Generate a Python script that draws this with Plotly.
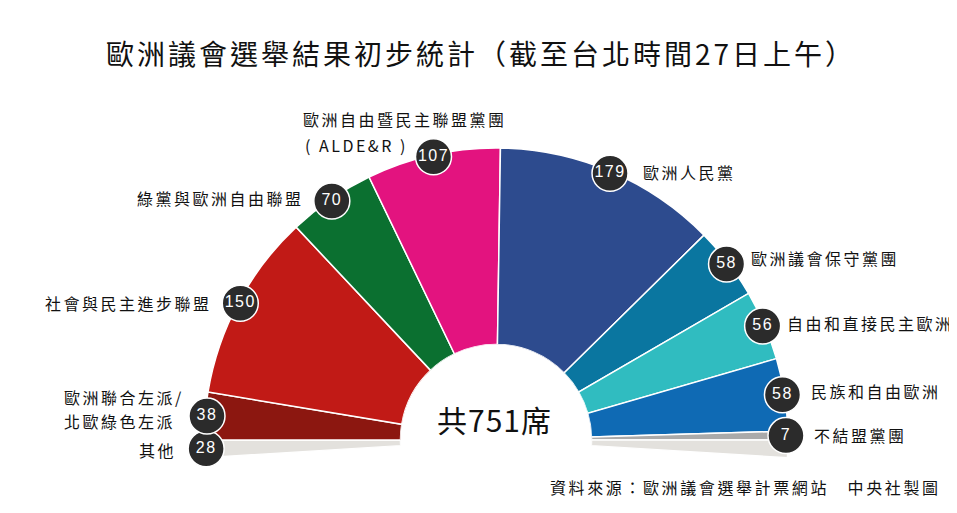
import numpy as np
import plotly.graph_objects as go

# Data, in the order drawn clockwise from the left edge of the fan
seat_labels = ["28", "38", "150", "70", "107", "179", "58", "56", "58", "7", ""]
seats = [14, 38, 150, 70, 107, 179, 58, 56, 58, 7, 14]
colors = ["#e3e1dd", "#8c1710", "#c11a16", "#0b7030", "#e3137f", "#2d4b8e",
          "#0a76a0", "#30bcc0", "#0f6ab4", "#aaaaaa", "#e3e1dd"]
party_names = ["其他", "歐洲聯合左派/", "社會與民主進步聯盟", "綠黨與歐洲自由聯盟", "歐洲自由暨民主聯盟黨團",
               "歐洲人民黨", "歐洲議會保守黨團", "自由和直接民主歐洲", "民族和自由歐洲", "不結盟黨團"]
extra_lines = ["北歐綠色左派", "( ALDE&R )"]
title = "歐洲議會選舉結果初步統計（截至台北時間27日上午）"
center_text = "共751席"
source = "資料來源：歐洲議會選舉計票網站　中央社製圖"

# The page body has an 8 px margin, so the figure is 8 px smaller and shifted coordinates are used
OFF = 8
W, H = 957 - OFF, 513 - OFF
CX, CY, R, R0, RMAX = 496 - OFF, 440 - OFF, 292, 95.5, 294
BADGE_R = 290
FONT = "Noto Sans CJK TC, Noto Sans CJK JP, sans-serif"
LATIN = "Liberation Sans, Arial, sans-serif"

seats_arr = np.array(seats, dtype=float)
drawn = seats_arr[1:-1].sum()  # seats that span the 180 degrees of the fan
deg = seats_arr / drawn * 180.0
start = -deg[0] + np.concatenate([[0], np.cumsum(deg)[:-1]])
mid = start + deg / 2

fig = go.Figure()
fig.add_trace(go.Barpolar(
    theta=mid, width=deg, base=R0, r=[R - R0] * len(seats),
    marker=dict(color=colors, line=dict(color="white", width=1.5)),
    hoverinfo="skip", showlegend=False,
))
keep = [i for i, s in enumerate(seat_labels) if s]
fig.add_trace(go.Scatterpolar(
    theta=mid[keep], r=[BADGE_R] * len(keep),
    mode="markers+text", cliponaxis=False,
    text=[f'<span style="letter-spacing:1.5px">{seat_labels[i]}</span>' for i in keep],
    textposition="middle center",
    textfont=dict(family=LATIN, size=16, color="white"),
    marker=dict(size=36, color="#2b2b2b", line=dict(color="white", width=1.5)),
    hoverinfo="skip", showlegend=False,
))


def put(text, x, y, size, spacing, anchor="left", family=FONT, color="#111111"):
    fig.add_annotation(
        xref="paper", yref="paper", x=(x - OFF) / W, y=1 - (y - OFF) / H, xanchor=anchor, yanchor="middle",
        showarrow=False, align="left", borderpad=0, borderwidth=0,
        text=f'<span style="letter-spacing:{spacing}px">{text}</span>',
        font=dict(family=family, size=size, color=color),
    )


put(title, 106, 53, 28, 3.0)
put(center_text, 437, 419, 30, 1.0)
put(source, 550, 487, 16, 2.6)
label_spots = [(139, 450), (64, 397), (45, 303), (137, 198), (303, 119),
               (643, 172), (751, 258), (787, 323), (811, 391), (814, 435)]
for name, (x, y) in zip(party_names, label_spots):
    put(name, x, y, 16, 2.5)
put(extra_lines[0], 64, 421, 16, 2.5)
put(extra_lines[1], 305, 145, 16, 2.5)

fig.update_layout(
    width=W, height=H, margin=dict(l=0, r=0, t=0, b=0),
    paper_bgcolor="white", plot_bgcolor="white",
    polar=dict(
        domain=dict(x=[(CX - RMAX) / W, (CX + RMAX) / W],
                    y=[1 - (CY + RMAX * np.sin(np.radians(3.6))) / H, 1 - (CY - RMAX) / H]),
        sector=[-3.6, 183.6], hole=R0 / RMAX, bgcolor="rgba(0,0,0,0)",
        radialaxis=dict(range=[R0, RMAX], visible=False),
        angularaxis=dict(direction="clockwise", rotation=180, visible=False),
        bargap=0,
    ),
)
fig.write_html("out.html", config=dict(displayModeBar=False))
